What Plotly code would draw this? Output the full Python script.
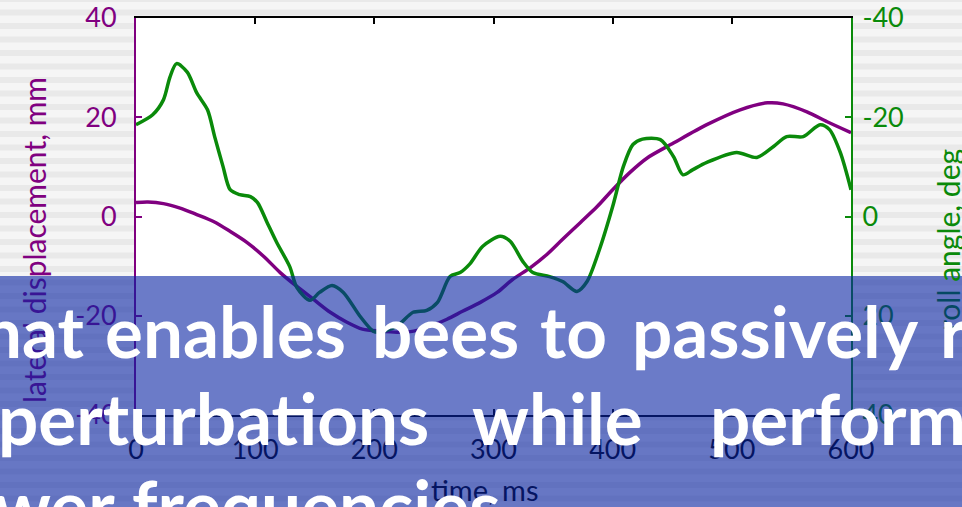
import plotly.graph_objects as go

# ---------------- data ----------------
t_disp = [0, 10, 23, 37, 51, 65, 79, 93, 107, 121, 135, 149, 163, 177, 190, 205, 219, 233,
          247, 261, 274, 289, 303, 316, 331, 345, 358, 373, 387, 400, 415, 429, 451, 479,
          507, 530, 543, 563, 580, 600]
lateral_disp = [2.8, 2.9, 2.6, 1.7, 0.4, -1.0, -3.0, -5.2, -8.0, -11.3, -14.1, -16.7, -19.3,
                -21.3, -22.7, -23.1, -23.3, -23.1, -22.1, -20.7, -19.1, -17.3, -15.3, -12.7,
                -10.3, -7.6, -4.6, -1.2, 2.0, 5.4, 9.0, 11.8, 14.8, 18.5, 21.5, 22.9, 22.7,
                21.1, 19.1, 16.9]

t_roll = [0, 14, 23, 28.5, 34, 43, 51, 60, 66, 73, 79, 87, 96, 102, 110, 118, 129, 135, 146,
          154, 164.5, 174, 188, 199, 204, 219, 232.5, 244, 253, 263.5, 272, 280, 291, 305.5,
          314, 325, 333, 347, 358, 370, 378.5, 389, 400, 409, 417, 425, 440, 451, 459, 467,
          479, 504, 521, 535, 546, 560, 574, 582, 591, 600]
roll_angle = [-18.5, -20.5, -23.5, -28.1, -30.8, -29.1, -24.9, -21.5, -16.1, -10.1, -5.4, -4.4,
              -4.0, -2.8, 1.2, 5.2, 10.1, 14.3, 16.9, 15.3, 13.9, 15.3, 20.1, 23.1, 23.3, 22.1,
              19.3, 18.9, 17.3, 12.1, 11.3, 9.6, 6.0, 4.0, 5.0, 9.2, 11.3, 12.1, 13.1, 15.1,
              13.1, 6.6, -2.0, -10.1, -14.5, -15.6, -15.5, -12.1, -8.4, -9.4, -10.9, -12.9,
              -11.9, -14.1, -16.1, -16.1, -18.5, -17.5, -12.9, -5.4]

x_ticks = [0, 100, 200, 300, 400, 500, 600]
left_ticks = [40, 20, 0, -20, -40]
left_tick_text = ["40", "20", "0", "-20", "-40"]
right_ticks = [-40, -20, 0, 20, 40]
right_tick_text = ["-40", "-20", "0", "20", "40"]

banner_lines = [
    ["hat", "enables", "bees", "to", "passively", "r"],
    ["perturbations", "while", "perform"],
    ["wer", "frequencies"],
]

# ---------------- layout geometry ----------------
W, H = 962, 507
ML, MR, MT, MB = 136, 111, 18, 92
PW, PH = W - ML - MR, H - MT - MB


def px(x):
    return (x - ML) / PW


def py(y):
    return (H - MB - y) / PH


PURPLE = "#800080"
GREEN = "#0a8a0a"
FONT = "Lato, Roboto, sans-serif"

fig = go.Figure()
fig.add_trace(go.Scatter(x=t_disp, y=lateral_disp, mode="lines",
                         line=dict(color=PURPLE, width=3.5, shape="spline", smoothing=0.8),
                         yaxis="y", showlegend=False, hoverinfo="skip"))
fig.add_trace(go.Scatter(x=t_roll, y=roll_angle, mode="lines",
                         line=dict(color=GREEN, width=3.5, shape="spline", smoothing=0.8),
                         yaxis="y2", showlegend=False, hoverinfo="skip"))

shapes = []
# striped slide background
y = -4.0
while y < H + 14:
    shapes.append(dict(type="rect", xref="paper", yref="paper", layer="below",
                       x0=px(-10), x1=px(W + 10), y0=py(y + 6), y1=py(y),
                       fillcolor="#e9e9e9", line=dict(width=0)))
    y += 13.5
# white plot area
shapes.append(dict(type="rect", xref="paper", yref="paper", layer="below",
                   x0=0, x1=1, y0=0, y1=1, fillcolor="white", line=dict(width=0)))
# translucent banner
shapes.append(dict(type="rect", xref="paper", yref="paper", layer="above",
                   x0=px(-20), x1=px(W + 20), y0=py(H + 20), y1=py(276),
                   fillcolor="rgba(8,35,163,0.6)", line=dict(width=0)))

annotations = []
annotations.append(dict(
    xref="paper", yref="paper", x=px(34), y=py(240), textangle=-90, showarrow=False,
    text="<span style='color:#381595'>lateral dis</span>placement, mm",
    font=dict(family=FONT, size=30, color=PURPLE), xanchor="center", yanchor="middle"))
annotations.append(dict(
    xref="paper", yref="paper", x=px(948), y=py(240), textangle=-90, showarrow=False,
    text="<span style='color:#054862'>roll</span> angle, deg",
    font=dict(family=FONT, size=30, color=GREEN), xanchor="center", yanchor="middle"))
annotations.append(dict(
    xref="paper", yref="paper", x=px(484), y=py(490), showarrow=False,
    text="time, ms", font=dict(family=FONT, size=29, color="#051562"),
    xanchor="center", yanchor="middle"))

word_x = [[-20, 103, 370, 538, 630, 938], [-4, 470, 708], [-8, 130]]
baselines = [360, 447, 534]
BFS = 71
for words, xs, base in zip(banner_lines, word_x, baselines):
    for w, x in zip(words, xs):
        annotations.append(dict(
            xref="paper", yref="paper", x=px(x), y=py(base + 0.2 * BFS + 1),
            text=w, showarrow=False, xanchor="left", yanchor="bottom",
            font=dict(family=FONT, size=BFS, color="white", weight="bold")))

fig.update_layout(
    width=W, height=H,
    margin=dict(l=ML, r=MR, t=MT, b=MB, pad=0, autoexpand=False),
    paper_bgcolor="#f5f5f5", plot_bgcolor="rgba(0,0,0,0)",
    font=dict(family=FONT, size=27),
    shapes=shapes, annotations=annotations,
    xaxis=dict(range=[0, 600], tickvals=x_ticks, ticks="inside", ticklen=6, tickwidth=2,
               tickcolor="black", showline=True, linecolor="black", linewidth=2,
               mirror="ticks", showgrid=False, zeroline=False, automargin=False,
               ticklabelstandoff=10,
               tickfont=dict(family=FONT, size=27, color="black")),
    yaxis=dict(range=[-40, 40], tickvals=left_ticks, ticktext=left_tick_text,
               ticks="inside", ticklen=6, tickwidth=2, automargin=False,
               tickcolor=PURPLE, showline=True, linecolor=PURPLE, linewidth=2,
               showgrid=False, zeroline=False, ticklabelstandoff=12,
               tickfont=dict(family=FONT, size=27, color=PURPLE)),
    yaxis2=dict(range=[40, -40], tickvals=right_ticks, ticktext=right_tick_text,
                overlaying="y", side="right", automargin=False,
                ticks="inside", ticklen=6, tickwidth=2, tickcolor=GREEN, showline=True,
                linecolor=GREEN, linewidth=2, showgrid=False, zeroline=False,
                ticklabelstandoff=4,
                tickfont=dict(family=FONT, size=27, color=GREEN)),
)

fig.write_html("out.html", config={"displayModeBar": False},
               post_script="document.body.style.margin='0';document.body.style.overflow='hidden';")
